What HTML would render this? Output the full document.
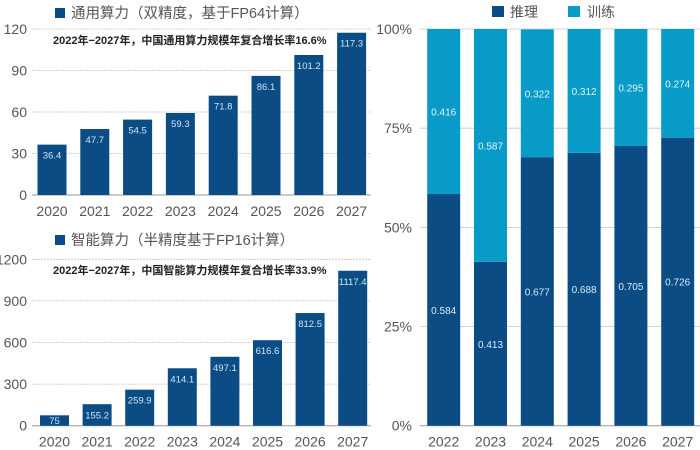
<!DOCTYPE html>
<html><head><meta charset="utf-8">
<style>
html,body{margin:0;padding:0;background:#fff;}
svg{display:block;font-family:"Liberation Sans","Noto Sans CJK SC",sans-serif;}
</style></head>
<body>
<svg id="c" width="700" height="450" viewBox="0 0 700 450"></svg>
<script>
const years1 = ['2020','2021','2022','2023','2024','2025','2026','2027'];
const generalValues = [36.4,47.7,54.5,59.3,71.8,86.1,101.2,117.3];
const generalTicks = [0,30,60,90,120];
const aiValues = [75,155.2,259.9,414.1,497.1,616.6,812.5,1117.4];
const aiLabels = ['75','155.2','259.9','414.1','497.1','616.6','812.5','1117.4'];
const aiTicks = [0,300,600,900,1200];
const years2 = ['2022','2023','2024','2025','2026','2027'];
const inferShare = [0.584,0.413,0.677,0.688,0.705,0.726];
const trainShare = [0.416,0.587,0.322,0.312,0.295,0.274];
const pctTicks = [0,25,50,75,100];

const DARK='#0b4c85', LIGHT='#099bc7', GRID='#c4c4c4', TXT='#555';
const svg=document.getElementById('c');
const NS='http://www.w3.org/2000/svg';
function mk(tag,attrs,parent){const e=document.createElementNS(NS,tag);for(const k in attrs)e.setAttribute(k,attrs[k]);(parent||svg).appendChild(e);return e;}
function txt(s,attrs,parent){const e=mk('text',attrs,parent);e.textContent=s;return e;}

function barChart(opts){
  const g=mk('g',{});
  
  
  const y=v=>opts.y0-(v/opts.max)*(opts.y0-opts.yTop);
  const x=i=>opts.x0+i*opts.pitch;
  opts.ticks.forEach(t=>{
    const l=mk('line',{x1:32,x2:371,y1:y(t),y2:y(t),stroke:t===0?'#999':GRID,'stroke-width':t===0?1:0.8,'stroke-dasharray':t===0?'':'2,1'},g);
    
    
    const tl=txt(String(t),{x:27,y:y(t)+5,'text-anchor':'end','font-size':14,fill:TXT},g);
    
    
  });
  opts.values.forEach((v,i)=>{
    const h=opts.y0-y(v);
    const r=mk('rect',{x:x(i)-14.5,y:y(v),width:29,height:h,fill:DARK},g);
    
    
    const ly=h<22?(y(v)+opts.y0)/2+3.5:y(v)+14;
    const vl=txt(opts.labels[i],{x:x(i),y:ly,'text-anchor':'middle','font-size':9.5,fill:'#cfe6f5'},g);
    
    
    const xl=txt(opts.cats[i],{x:x(i),y:opts.y0+21,'text-anchor':'middle','font-size':14,fill:TXT},g);
    
    
  });
  const sq=mk('rect',{x:55,y:opts.legY-5,width:10,height:10,fill:DARK},g);
  
  
  const lt=txt(opts.legend,{x:71,y:opts.legY+5,'font-size':14.5,fill:TXT},g);
  
  
  const an=txt(opts.note,{x:53,y:opts.noteY,'font-size':11,'font-weight':'bold',fill:'#222'},g);
  
  
}

barChart({name:'general-compute-chart',cats:years1,values:generalValues,labels:generalValues.map(String),ticks:generalTicks,max:120,y0:195,yTop:29,x0:52,pitch:42.8,legY:13,legend:'通用算力（双精度，基于FP64计算）',note:'2022年−2027年，中国通用算力规模年复合增长率16.6%',noteY:44});
barChart({name:'ai-compute-chart',cats:years1,values:aiValues,labels:aiLabels,ticks:aiTicks,max:1200,y0:425.7,yTop:259.3,x0:54.5,pitch:42.6,legY:240,legend:'智能算力（半精度基于FP16计算）',note:'2022年−2027年，中国智能算力规模年复合增长率33.9%',noteY:274});

(function(){
  const g=mk('g',{});
  
  
  const y0=425.7,yTop=29;
  const y=p=>y0-p*(y0-yTop);
  const x=i=>443.7+i*46.8;
  pctTicks.forEach(t=>{
    const l=mk('line',{x1:420,x2:700,y1:y(t/100),y2:y(t/100),stroke:t===0?'#999':GRID,'stroke-width':t===0?1:0.8},g);
    
    
    const tl=txt(t+'%',{x:412,y:y(t/100)+5,'text-anchor':'end','font-size':14,fill:TXT},g);
    
    
  });
  years2.forEach((c,i)=>{
    const a=inferShare[i], b=trainShare[i];
    const r1=mk('rect',{x:x(i)-16.5,y:y(a),width:33,height:y0-y(a),fill:DARK},g);
    
    
    const r2=mk('rect',{x:x(i)-16.5,y:y(a+b),width:33,height:y(a)-y(a+b),fill:LIGHT},g);
    
    
    const l1=txt(a.toFixed(3),{x:x(i),y:(y(a)+y0)/2+4,'text-anchor':'middle','font-size':10,fill:'#d8ebf7'},g);
    
    
    const l2=txt(b.toFixed(3),{x:x(i),y:(y(a)+y(a+b))/2+4,'text-anchor':'middle','font-size':10,fill:'#e3f4fb'},g);
    
    
    const xl=txt(c,{x:x(i),y:y0+21,'text-anchor':'middle','font-size':14,fill:TXT},g);
    
    
  });
  const s1=mk('rect',{x:492,y:6,width:12,height:11,fill:DARK},g);
  
  
  const t1=txt('推理',{x:510,y:17,'font-size':14,fill:TXT},g);
  
  
  const s2=mk('rect',{x:568,y:6,width:12,height:11,fill:LIGHT},g);
  
  
  const t2=txt('训练',{x:587,y:17,'font-size':14,fill:TXT},g);
  
  
})();
</script>
</body></html>
